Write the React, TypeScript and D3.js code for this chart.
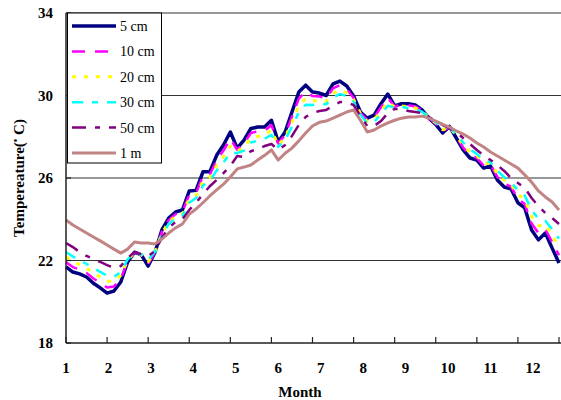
import React from "react";
import * as d3 from "d3";

const days = [0,5,10,15,20,25,30,35,40,45,50,55,60,65,70,75,80,85,90,95,100,105,110,115,120,125,130,135,140,145,150,155,160,165,170,175,180,185,190,195,200,205,210,215,220,225,230,235,240,245,250,255,260,265,270,275,280,285,290,295,300,305,310,315,320,325,330,335,340,345,350,355,360];

const t5cm = [21.69,21.44,21.35,21.2,20.9,20.67,20.42,20.52,20.96,21.93,22.4,22.27,21.73,22.4,23.48,24.06,24.35,24.45,25.37,25.4,26.3,26.3,27.1,27.6,28.23,27.45,27.84,28.4,28.47,28.47,28.8,27.75,28.23,29.2,30.17,30.5,30.17,30.12,30.0,30.56,30.7,30.46,29.98,29.2,28.9,29.05,29.6,30.07,29.5,29.6,29.6,29.54,29.3,28.9,28.6,28.18,28.5,27.94,27.36,26.97,26.87,26.48,26.58,25.9,25.56,25.47,24.8,24.55,23.48,23.0,23.33,22.6,21.88];

const t10cm = [21.92,21.68,21.56,21.4,21.13,20.92,20.69,20.74,21.11,21.97,22.4,22.28,21.83,22.41,23.4,23.96,24.25,24.36,25.19,25.28,26.08,26.16,26.86,27.33,27.9,27.37,27.68,28.18,28.26,28.29,28.57,27.67,28.1,28.97,29.85,30.19,29.97,29.95,29.86,30.35,30.5,30.3,29.89,29.16,28.82,28.94,29.43,29.89,29.47,29.55,29.53,29.47,29.27,28.91,28.63,28.26,28.48,28.0,27.48,27.11,26.97,26.6,26.64,26.05,25.72,25.58,24.99,24.74,23.79,23.33,23.52,22.89,22.26];

const t20cm = [22.18,21.95,21.8,21.63,21.39,21.2,20.99,20.99,21.28,22.01,22.4,22.28,21.94,22.43,23.32,23.86,24.15,24.26,24.98,25.15,25.85,26.01,26.6,27.03,27.54,27.29,27.5,27.94,28.02,28.08,28.32,27.59,27.97,28.71,29.5,29.85,29.74,29.75,29.71,30.11,30.27,30.13,29.8,29.12,28.74,28.83,29.25,29.68,29.44,29.5,29.45,29.4,29.24,28.93,28.67,28.34,28.47,28.06,27.6,27.26,27.08,26.74,26.7,26.21,25.89,25.69,25.2,24.96,24.13,23.69,23.74,23.21,22.67];

const t30cm = [22.41,22.19,22.01,21.83,21.63,21.45,21.26,21.21,21.44,22.05,22.41,22.29,22.03,22.44,23.24,23.76,24.05,24.17,24.8,25.03,25.63,25.87,26.36,26.76,27.21,27.21,27.33,27.72,27.81,27.9,28.09,27.51,27.84,28.48,29.18,29.55,29.54,29.58,29.57,29.9,30.07,29.98,29.71,29.08,28.66,28.72,29.08,29.5,29.41,29.45,29.38,29.33,29.21,28.94,28.7,28.42,28.45,28.12,27.72,27.39,27.17,26.86,26.76,26.35,26.04,25.8,25.4,25.15,24.44,24.02,23.93,23.51,23.05];

const t50cm = [22.85,22.65,22.41,22.22,22.07,21.93,21.78,21.64,21.73,22.12,22.41,22.3,22.22,22.46,23.1,23.58,23.87,24.0,24.45,24.8,25.22,25.6,25.9,26.24,26.58,27.07,27.02,27.3,27.4,27.55,27.65,27.36,27.6,28.04,28.57,28.96,29.15,29.25,29.3,29.5,29.68,29.68,29.54,29.0,28.52,28.52,28.76,29.15,29.35,29.35,29.25,29.2,29.15,28.96,28.76,28.57,28.42,28.23,27.94,27.65,27.36,27.1,26.87,26.63,26.34,26.0,25.76,25.52,25.03,24.64,24.3,24.06,23.77];

const t1m = [23.96,23.72,23.53,23.33,23.14,22.95,22.75,22.55,22.36,22.55,22.9,22.85,22.85,22.8,23.04,23.33,23.58,23.77,24.25,24.5,24.8,25.13,25.42,25.7,26.05,26.44,26.53,26.63,26.87,27.1,27.36,26.87,27.2,27.45,27.8,28.18,28.52,28.7,28.76,28.9,29.05,29.2,29.3,28.8,28.23,28.33,28.52,28.67,28.8,28.9,28.96,28.96,29.0,28.9,28.76,28.6,28.47,28.28,28.13,27.94,27.7,27.5,27.26,27.07,26.87,26.68,26.48,26.15,25.8,25.37,25.08,24.84,24.45];

const seriesNames = ["5 cm", "10 cm", "20 cm", "30 cm", "50 cm", "1 m"];
const seriesData = [t5cm, t10cm, t20cm, t30cm, t50cm, t1m];
const seriesColors = ["#000080", "#FF00FF", "#FFFF00", "#00FFFF", "#800080", "#C08484"];
const seriesWidths = [3.5, 2.5, 3, 2.5, 2.5, 3];
const seriesDash = ["", "13,10", "4,8", "11,9,6,9", "14,9,5,9", ""];

const yTicks = [18, 22, 26, 30, 34];
const xTickDays = [0, 30, 60, 90, 120, 150, 180, 210, 240, 270, 300, 330, 360];
const monthLabels = ["1", "2", "3", "4", "5", "6", "7", "8", "9", "10", "11", "12"];
const monthLabelDay = 31;

export default function App() {
  const W = 561, H = 400;
  const left = 66, right = 559, top = 13, bottom = 343;
  const x = d3.scaleLinear().domain([0, 360]).range([left, right]);
  const y = d3.scaleLinear().domain([18, 34]).range([bottom, top]);
  const line = d3.line<number>()
    .x((_, i) => x(days[i]))
    .y((d) => y(d));
  const fontStyle = { fontFamily: "'Liberation Serif', 'Times New Roman', 'DejaVu Serif', serif" };

  return (
    <svg width={W} height={H} style={{ position: "absolute", left: 0, top: 0, background: "#fff" }}>
      <rect x={0} y={0} width={W} height={H} fill="#fff" />
      {yTicks.filter((t) => t !== 18).map((t) => (
        <line key={t} x1={left} x2={W} y1={y(t)} y2={y(t)} stroke="#333" strokeWidth={1.2} />
      ))}
      {seriesData.map((s, i) => (
        <path key={i} d={line(s) || ""} fill="none" stroke={seriesColors[i]}
          strokeWidth={seriesWidths[i]} strokeDasharray={seriesDash[i]}
          strokeLinejoin="round" />
      ))}
      <line x1={left} x2={left} y1={top} y2={bottom} stroke="#222" strokeWidth={1.5} />
      <line x1={left} x2={W} y1={bottom} y2={bottom} stroke="#222" strokeWidth={1.5} />
      {yTicks.map((t) => (
        <line key={"yt" + t} x1={left} x2={left + 5} y1={y(t)} y2={y(t)} stroke="#222" strokeWidth={1.2} />
      ))}
      {xTickDays.map((d) => (
        <line key={"xt" + d} x1={x(d)} x2={x(d)} y1={bottom} y2={bottom - 6} stroke="#222" strokeWidth={1.2} />
      ))}
      <g style={fontStyle}>
        {yTicks.map((t) => (
          <text key={"yl" + t} x={53} y={y(t)} dy="0.35em" textAnchor="end"
            fontWeight="bold" fontSize={15}>{t}</text>
        ))}
        {monthLabels.map((m, i) => (
          <text key={"xl" + m} x={x(i * monthLabelDay)} y={368} dy="0.35em" textAnchor="middle"
            fontWeight="bold" fontSize={15}>{m}</text>
        ))}
        <text x={300} y={392} dy="0.35em" textAnchor="middle" fontWeight="bold" fontSize={15}>Month</text>
        <text transform="translate(19,178) rotate(-90)" textAnchor="middle" dy="0.35em"
          fontWeight="bold" fontSize={15}>
          Tempereature(<tspan fontSize={10} dy="-5">•</tspan><tspan dy="5"> C)</tspan>
        </text>
        <rect x={67.5} y={13} width={94} height={150} fill="#fff" stroke="#000" strokeWidth={1} />
        {seriesNames.map((n, i) => {
          const ly = 26 + i * 25.4;
          return (
            <g key={n}>
              <line x1={72} x2={116} y1={ly} y2={ly} stroke={seriesColors[i]}
                strokeWidth={seriesWidths[i]} strokeDasharray={seriesDash[i]} />
              <text x={120} y={ly} dy="0.35em" fontSize={14}>{n}</text>
            </g>
          );
        })}
      </g>
    </svg>
  );
}
